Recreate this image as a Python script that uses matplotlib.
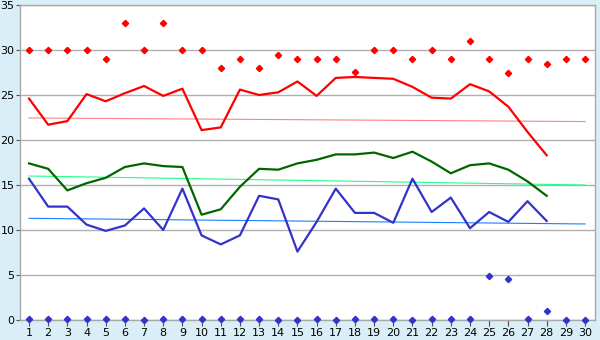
import matplotlib
matplotlib.use("Agg")
import matplotlib.pyplot as plt

days = list(range(1, 31))

# daily maximum marks (red diamonds)
red_points = [30, 30, 30, 30, 29, 33, 30, 33, 30, 30, 28, 29, 28, 29.5, 29,
              29, 29, 27.6, 30, 30, 29, 30, 29, 31, 29, 27.4, 29, 28.4, 29, 29]
# daily minimum marks (blue diamonds)
blue_points = [0.1, 0.1, 0.1, 0.1, 0.1, 0.1, 0, 0.1, 0.1, 0.1, 0.1, 0.1, 0.1, 0, 0,
               0.1, 0, 0.1, 0.1, 0.1, 0, 0.1, 0.1, 0.1, 4.9, 4.6, 0.1, 1.0, 0, 0]

# lines (28 days)
red_line = [24.6, 21.7, 22.1, 25.1, 24.3, 25.2, 26.0, 24.9, 25.7, 21.1, 21.4, 25.6, 25.0, 25.3,
            26.5, 24.9, 26.9, 27.0, 26.9, 26.8, 25.9, 24.7, 24.6, 26.2, 25.4, 23.7, 20.9, 18.3]
green_line = [17.4, 16.8, 14.4, 15.2, 15.8, 17.0, 17.4, 17.1, 17.0, 11.7, 12.3, 14.8, 16.8, 16.7,
              17.4, 17.8, 18.4, 18.4, 18.6, 18.0, 18.7, 17.6, 16.3, 17.2, 17.4, 16.7, 15.4, 13.8]
blue_line = [15.7, 12.6, 12.6, 10.6, 9.9, 10.5, 12.4, 10.0, 14.6, 9.4, 8.4, 9.4, 13.8, 13.4,
             7.6, 10.9, 14.6, 11.9, 11.9, 10.8, 15.7, 12.0, 13.6, 10.2, 12.0, 10.9, 13.2, 11.0]

# trend lines (start day 1, end day 30)
trend_days = [1, 30]
red_trend = [22.45, 22.05]
green_trend = [16.0, 15.0]
blue_trend = [11.3, 10.67]

fig = plt.figure(figsize=(6, 3.4), dpi=100, facecolor="#d9eef6")
ax = fig.add_axes([20 / 600, 20 / 340, 575 / 600, 315 / 340])
ax.set_facecolor("white")

line_days = days[:len(red_line)]

ax.plot(trend_days, red_trend, color="#ff8080", lw=0.8, zorder=2)
ax.plot(trend_days, green_trend, color="#22ff88", lw=0.8, zorder=2)
ax.plot(trend_days, blue_trend, color="#1a80ff", lw=0.8, zorder=2)

ax.plot(line_days, red_line, color="#ff0000", lw=1.6, zorder=3)
ax.plot(line_days, green_line, color="#006600", lw=1.6, zorder=3)
ax.plot(line_days, blue_line, color="#3333cc", lw=1.6, zorder=3)

ax.plot(days, red_points, "D", color="#ff0000", ms=3.2, ls="none", zorder=4)
ax.plot(days, blue_points, "D", color="#3333cc", ms=3.2, ls="none", zorder=4, clip_on=False)

ax.set_xlim(0.53, 30.52)
ax.set_ylim(0, 35)
ax.set_xticks(days)
ax.set_yticks(range(0, 36, 5))
ax.tick_params(axis="x", labelsize=8, length=4, width=0.8, pad=2, color="#505050")
ax.tick_params(axis="y", labelsize=8, length=3, width=0.8, pad=1, color="#505050")
ax.yaxis.grid(True, color="#b0b0b0", lw=1)
ax.set_axisbelow(True)
for side in ["top", "right", "left", "bottom"]:
    ax.spines[side].set_color("#a8a8a8")
    ax.spines[side].set_linewidth(1)

fig.savefig("out.png", dpi=100, facecolor=fig.get_facecolor())
